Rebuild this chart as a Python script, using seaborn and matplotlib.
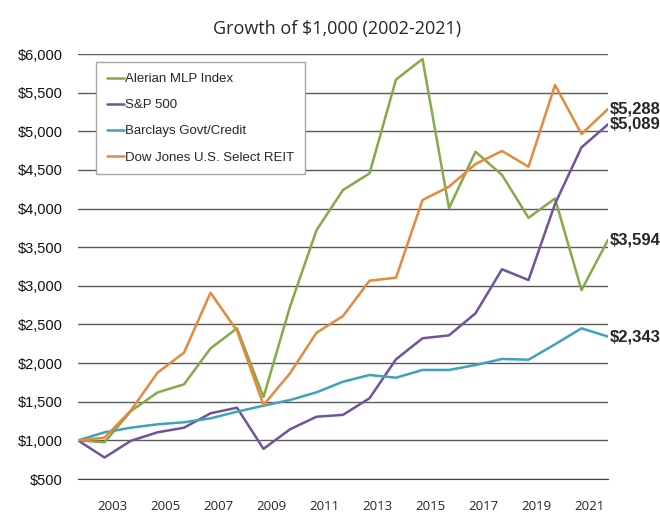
import matplotlib
matplotlib.use("Agg")
import matplotlib.pyplot as plt
import matplotlib.ticker as mticker
import pandas as pd
import seaborn as sns

# value of $1,000 at the start of each year (2002 = initial investment)
points = [2002, 2003, 2004, 2005, 2006, 2007, 2008, 2009, 2010, 2011, 2012,
          2013, 2014, 2015, 2016, 2017, 2018, 2019, 2020, 2021, 2022]
mlp = [1000, 975, 1380, 1620, 1725, 2190, 2450, 1560, 2730, 3720, 4240,
       4455, 5670, 5935, 4005, 4735, 4435, 3880, 4130, 2945, 3594]
sp500 = [1000, 778, 995, 1104, 1164, 1350, 1423, 890, 1143, 1306, 1330,
         1545, 2049, 2321, 2359, 2644, 3214, 3075, 4060, 4792, 5089]
barclays = [1000, 1104, 1164, 1208, 1234, 1285, 1371, 1449, 1522, 1622, 1759,
            1846, 1811, 1911, 1911, 1975, 2053, 2044, 2243, 2450, 2343]
reit = [1000, 1035, 1390, 1876, 2135, 2911, 2419, 1458, 1868, 2393, 2609,
        3066, 3105, 4110, 4283, 4576, 4745, 4541, 5599, 4965, 5288]

names = ["Alerian MLP Index", "S&P 500", "Barclays Govt/Credit",
         "Dow Jones U.S. Select REIT"]
colors = ["#86a94a", "#6f5499", "#3da3ba", "#e8883c"]
label_years = [2003, 2005, 2007, 2009, 2011, 2013, 2015, 2017, 2019, 2021]

df = pd.DataFrame({"Year": points, names[0]: mlp, names[1]: sp500,
                   names[2]: barclays, names[3]: reit})
long = df.melt(id_vars="Year", var_name="Index", value_name="Value")

sns.set_style("white")
plt.rcParams["font.family"] = ["Liberation Sans", "DejaVu Sans"]

fig = plt.figure(figsize=(6.6, 5.16), dpi=100)
ax = fig.add_axes([78 / 660, 1 - 479 / 516, 530 / 660, 425 / 516])

sns.lineplot(data=long, x="Year", y="Value", hue="Index",
             palette=dict(zip(names, colors)), linewidth=1.8, ax=ax)

ax.set_xlim(points[0], points[-1])
ax.set_ylim(500, 6000)
ax.set_yticks(range(500, 6001, 500))
ax.yaxis.set_major_formatter(mticker.StrMethodFormatter("${x:,.0f}"))
ax.tick_params(axis="y", length=0, pad=11, labelsize=10.5, labelcolor="#111111")
ax.yaxis.grid(True, color="#5a5a5a", linewidth=1)
ax.set_axisbelow(True)

ax.set_xticks([y + 0.3 for y in label_years])
ax.set_xticklabels([str(y) for y in label_years], family="Open Sans", fontsize=9.5)
ax.set_xticks(points, minor=True)
ax.tick_params(axis="x", which="major", length=0, pad=15)
ax.tick_params(axis="x", which="minor", direction="in", length=3,
               color="#404040", width=1)
ax.set_xlabel("")
ax.set_ylabel("")

for side in ["top", "right", "left"]:
    ax.spines[side].set_visible(False)
ax.spines["bottom"].set_color("#404040")

handles, labels = ax.get_legend_handles_labels()
leg = ax.legend(handles, labels, loc="upper left", bbox_to_anchor=(0.034, 0.98),
                borderaxespad=0, fontsize=9.5, frameon=True, fancybox=False,
                handlelength=1.3, handletextpad=0.1, labelspacing=1.05,
                borderpad=0.8, edgecolor="#a6a6a6", framealpha=1)
leg.get_frame().set_linewidth(1)

for vals in [reit, sp500, mlp, barclays]:
    ax.annotate(f"${vals[-1]:,.0f}", xy=(points[-1], vals[-1]), xytext=(1, 0),
                textcoords="offset points", ha="left", va="center",
                fontsize=12, fontweight="bold", annotation_clip=False)

fig.text(0.511, 1 - 29 / 516, "Growth of $1,000 (2002-2021)", ha="center",
         va="center", family="Open Sans", fontsize=13)

fig.savefig("out.png", dpi=100)
